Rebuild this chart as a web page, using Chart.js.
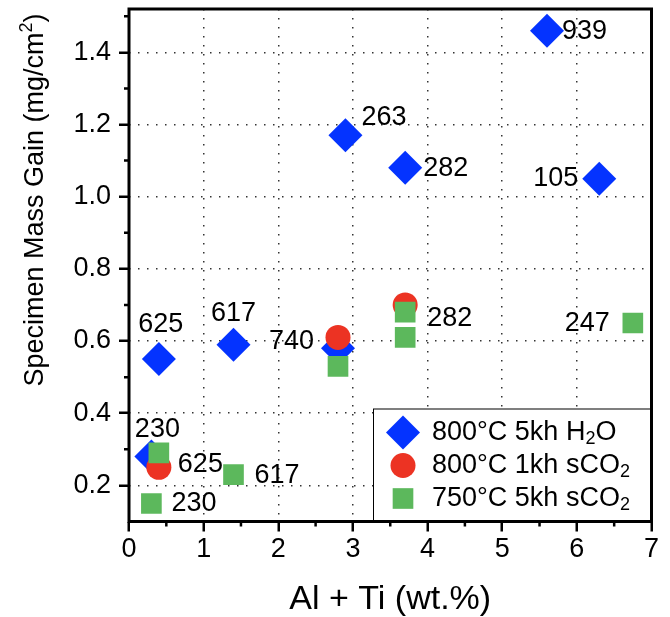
<!DOCTYPE html>
<html>
<head>
<meta charset="utf-8">
<script src="https://cdn.jsdelivr.net/npm/chart.js@4/dist/chart.umd.min.js"></script>
<style>
html, body { margin:0; padding:0; background:#fff; }
#wrap { width:670px; height:617px; }
</style>
</head>
<body>
<div id="wrap"><canvas id="massChart" width="670" height="617"></canvas></div>
<script>
/* =====================================================
   Specimen mass gain vs Al + Ti
===================================================== */

const FONT = '"Liberation Sans", Helvetica, Arial, sans-serif';

/* ---------- data ---------- */
// 800°C 5kh H2O
const h2oX    = [0.3, 0.4, 1.4, 2.8, 2.9, 3.7, 5.6, 6.3];
const h2oY    = [0.28, 0.55, 0.59, 0.58, 1.17, 1.08, 1.46, 1.05];
const h2oTags = ["230", "625", "617", "740", "263", "282", "939", "105"];

// 800°C 1kh sCO2
const co2HotX    = [0.4, 2.8, 3.7];
const co2HotY    = [0.25, 0.61, 0.70];
const co2HotTags = ["625", null, null];

// 750°C 5kh sCO2
const co2X    = [0.3, 0.4, 1.4, 2.8, 3.7, 3.7, 6.75];
const co2Y    = [0.15, 0.29, 0.23, 0.53, 0.68, 0.61, 0.65];
const co2Tags = ["230", null, "617", null, "282", null, "247"];

const xTicks = [0, 1, 2, 3, 4, 5, 6, 7];
const yTicks = [0.2, 0.4, 0.6, 0.8, 1.0, 1.2, 1.4];
const xMinor = [0.5, 1.5, 2.5, 3.5, 4.5, 5.5, 6.5];
const yMinor = [0.3, 0.5, 0.7, 0.9, 1.1, 1.3, 1.5];

/* ---------- tag placement (dx, dy, align) ---------- */
const h2oTagPos = [
    [6, -27, "center"], [2, -35, "center"], [0, -31, "center"], [-24, -7, "right"],
    [16, -18, "left"], [18, 1, "left"], [15, 1, "left"], [-21, 0, "right"]
];
const co2HotTagPos = [[19, -3, "left"], null, null];
const co2TagPos = [
    [20, 0, "left"], null, [21, 1, "left"], null, [22, 6, "left"], null, [-23, 1, "right"]
];

function pts(xs, ys){
    return xs.map((x, i) => ({x:x, y:ys[i]}));
}

/* ---------- plugins ---------- */
const tagPlugin = {
    id:"tags",
    afterDatasetsDraw(chart){
        const ctx = chart.ctx;
        ctx.save();
        ctx.font = "27px " + FONT;
        ctx.fillStyle = "#000";
        ctx.textBaseline = "middle";
        chart.data.datasets.forEach((ds, i) => {
            const meta = chart.getDatasetMeta(i);
            ds.tags.forEach((t, j) => {
                if(!t) return;
                const p = meta.data[j];
                const pos = ds.tagPos[j];
                ctx.textAlign = pos[2];
                ctx.fillText(t, p.x + pos[0], p.y + pos[1]);
            });
        });
        ctx.restore();
    }
};

// text with "₂" / "²" drawn as real sub/superscript
function drawRich(ctx, text, x, y, size){
    const parts = text.split(/([₂²])/);
    let cx = x;
    parts.forEach(part => {
        if(!part) return;
        if(part === "₂" || part === "²"){
            const sub = part === "₂";
            ctx.font = Math.round(size * 0.66) + "px " + FONT;
            ctx.fillText("2", cx, y + (sub ? size * 0.26 : -size * 0.42));
            cx += ctx.measureText("2").width;
        } else {
            ctx.font = size + "px " + FONT;
            ctx.fillText(part, cx, y);
            cx += ctx.measureText(part).width;
        }
    });
    return cx - x;
}

function richWidth(ctx, text, size){
    let w = 0;
    text.split(/([₂²])/).forEach(part => {
        if(!part) return;
        if(part === "₂" || part === "²"){
            ctx.font = Math.round(size * 0.66) + "px " + FONT;
            w += ctx.measureText("2").width;
        } else {
            ctx.font = size + "px " + FONT;
            w += ctx.measureText(part).width;
        }
    });
    return w;
}

function drawMarker(ctx, style, r, x, y){
    ctx.beginPath();
    if(style === "rectRot"){
        ctx.moveTo(x - r, y); ctx.lineTo(x, y - r);
        ctx.lineTo(x + r, y); ctx.lineTo(x, y + r);
    } else if(style === "rect"){
        const s = Math.SQRT1_2 * r;
        ctx.rect(x - s, y - s, 2 * s, 2 * s);
    } else {
        ctx.arc(x, y, r, 0, Math.PI * 2);
    }
    ctx.closePath();
    ctx.fill();
}

const framePlugin = {
    id:"frame",
    afterDraw(chart){
        const ctx = chart.ctx;
        const a = chart.chartArea;
        const xs = chart.scales.x, ys = chart.scales.y;
        ctx.save();

        // legend box
        const lx = a.left + 244, ly = a.bottom - 113;
        ctx.fillStyle = "#fff";
        ctx.fillRect(lx, ly, a.right - lx, a.bottom - ly);
        ctx.strokeStyle = "#000";
        ctx.lineWidth = 1;
        ctx.strokeRect(lx + 0.5, ly + 0.5, a.right - lx, a.bottom - ly);
        ctx.textBaseline = "middle";
        ctx.textAlign = "left";
        [0, 1, 2].forEach(k => {
            const ds = chart.data.datasets[k];
            const ry = ly + 24 + k * 33;
            ctx.fillStyle = ds.backgroundColor;
            drawMarker(ctx, ds.pointStyle, ds.pointRadius, lx + 30, ry);
            ctx.fillStyle = "#000";
            drawRich(ctx, ds.label, lx + 59, ry, 27);
        });

        // frame
        ctx.strokeStyle = "#000";
        ctx.lineWidth = 3;
        ctx.strokeRect(a.left, a.top, a.right - a.left, a.bottom - a.top);

        // minor ticks
        ctx.lineWidth = 2.5;
        ctx.beginPath();
        xMinor.forEach(v => {
            const px = xs.getPixelForValue(v);
            ctx.moveTo(px, a.bottom); ctx.lineTo(px, a.bottom + 5);
        });
        yMinor.forEach(v => {
            const py = ys.getPixelForValue(v);
            ctx.moveTo(a.left, py); ctx.lineTo(a.left - 5, py);
        });
        ctx.stroke();

        // y axis title
        const title = "Specimen Mass Gain (mg/cm²)";
        const size = 27;
        const w = richWidth(ctx, title, size);
        ctx.translate(43, 200);
        ctx.rotate(-Math.PI / 2);
        ctx.fillStyle = "#000";
        ctx.textBaseline = "alphabetic";
        drawRich(ctx, title, -w / 2, 0, size);

        ctx.restore();
    }
};

/* ---------- chart ---------- */
const massChart = new Chart(document.getElementById("massChart"), {
    type:"scatter",
    data:{
        datasets:[
            {
                label:"800°C 5kh H₂O",
                data:pts(h2oX, h2oY),
                tags:h2oTags,
                tagPos:h2oTagPos,
                pointStyle:"rectRot",
                pointRadius:17,
                backgroundColor:"#0433ff",
                borderWidth:0,
                order:3
            },
            {
                label:"800°C 1kh sCO₂",
                data:pts(co2HotX, co2HotY),
                tags:co2HotTags,
                tagPos:co2HotTagPos,
                pointStyle:"circle",
                pointRadius:12.5,
                backgroundColor:"#ec3323",
                borderWidth:0,
                order:2
            },
            {
                label:"750°C 5kh sCO₂",
                data:pts(co2X, co2Y),
                tags:co2Tags,
                tagPos:co2TagPos,
                pointStyle:"rect",
                pointRadius:14.6,
                backgroundColor:"#5cb85c",
                borderWidth:0,
                order:1
            }
        ]
    },
    options:{
        responsive:false,
        animation:false,
        layout:{
            autoPadding:false,
            padding:{ top:9, right:18.5, bottom:0, left:0 }
        },
        plugins:{
            legend:{ display:false },
            tooltip:{ enabled:false }
        },
        scales:{
            x:{
                type:"linear",
                min:0,
                max:7,
                afterBuildTicks:s => { s.ticks = xTicks.map(v => ({value:v})); },
                afterFit:s => { s.height = 95.5; s.paddingLeft = 0; s.paddingRight = 0; },
                ticks:{
                    color:"#000",
                    padding:2,
                    font:{ family:FONT, size:27 }
                },
                grid:{
                    color:"#333",
                    lineWidth:1.5,
                    tickLength:10,
                    tickColor:"#000",
                    tickWidth:2.5
                },
                border:{ display:false, dash:[1.5, 7.5] },
                title:{
                    display:true,
                    text:"Al + Ti (wt.%)",
                    color:"#000",
                    padding:{ top:0, bottom:0 },
                    font:{ family:FONT, size:34, lineHeight:1.0 }
                }
            },
            y:{
                type:"linear",
                min:0.1,
                max:1.52,
                afterBuildTicks:s => { s.ticks = yTicks.map(v => ({value:v})); },
                afterFit:s => { s.width = 129; s.paddingTop = 0; s.paddingBottom = 0; },
                ticks:{
                    color:"#000",
                    padding:8,
                    font:{ family:FONT, size:27 },
                    callback:v => v.toFixed(1)
                },
                grid:{
                    color:"#333",
                    lineWidth:1.5,
                    tickLength:10,
                    tickColor:"#000",
                    tickWidth:2.5
                },
                border:{ display:false, dash:[1.5, 7.5] }
            }
        }
    },
    plugins:[tagPlugin, framePlugin]
});
</script>
</body>
</html>
